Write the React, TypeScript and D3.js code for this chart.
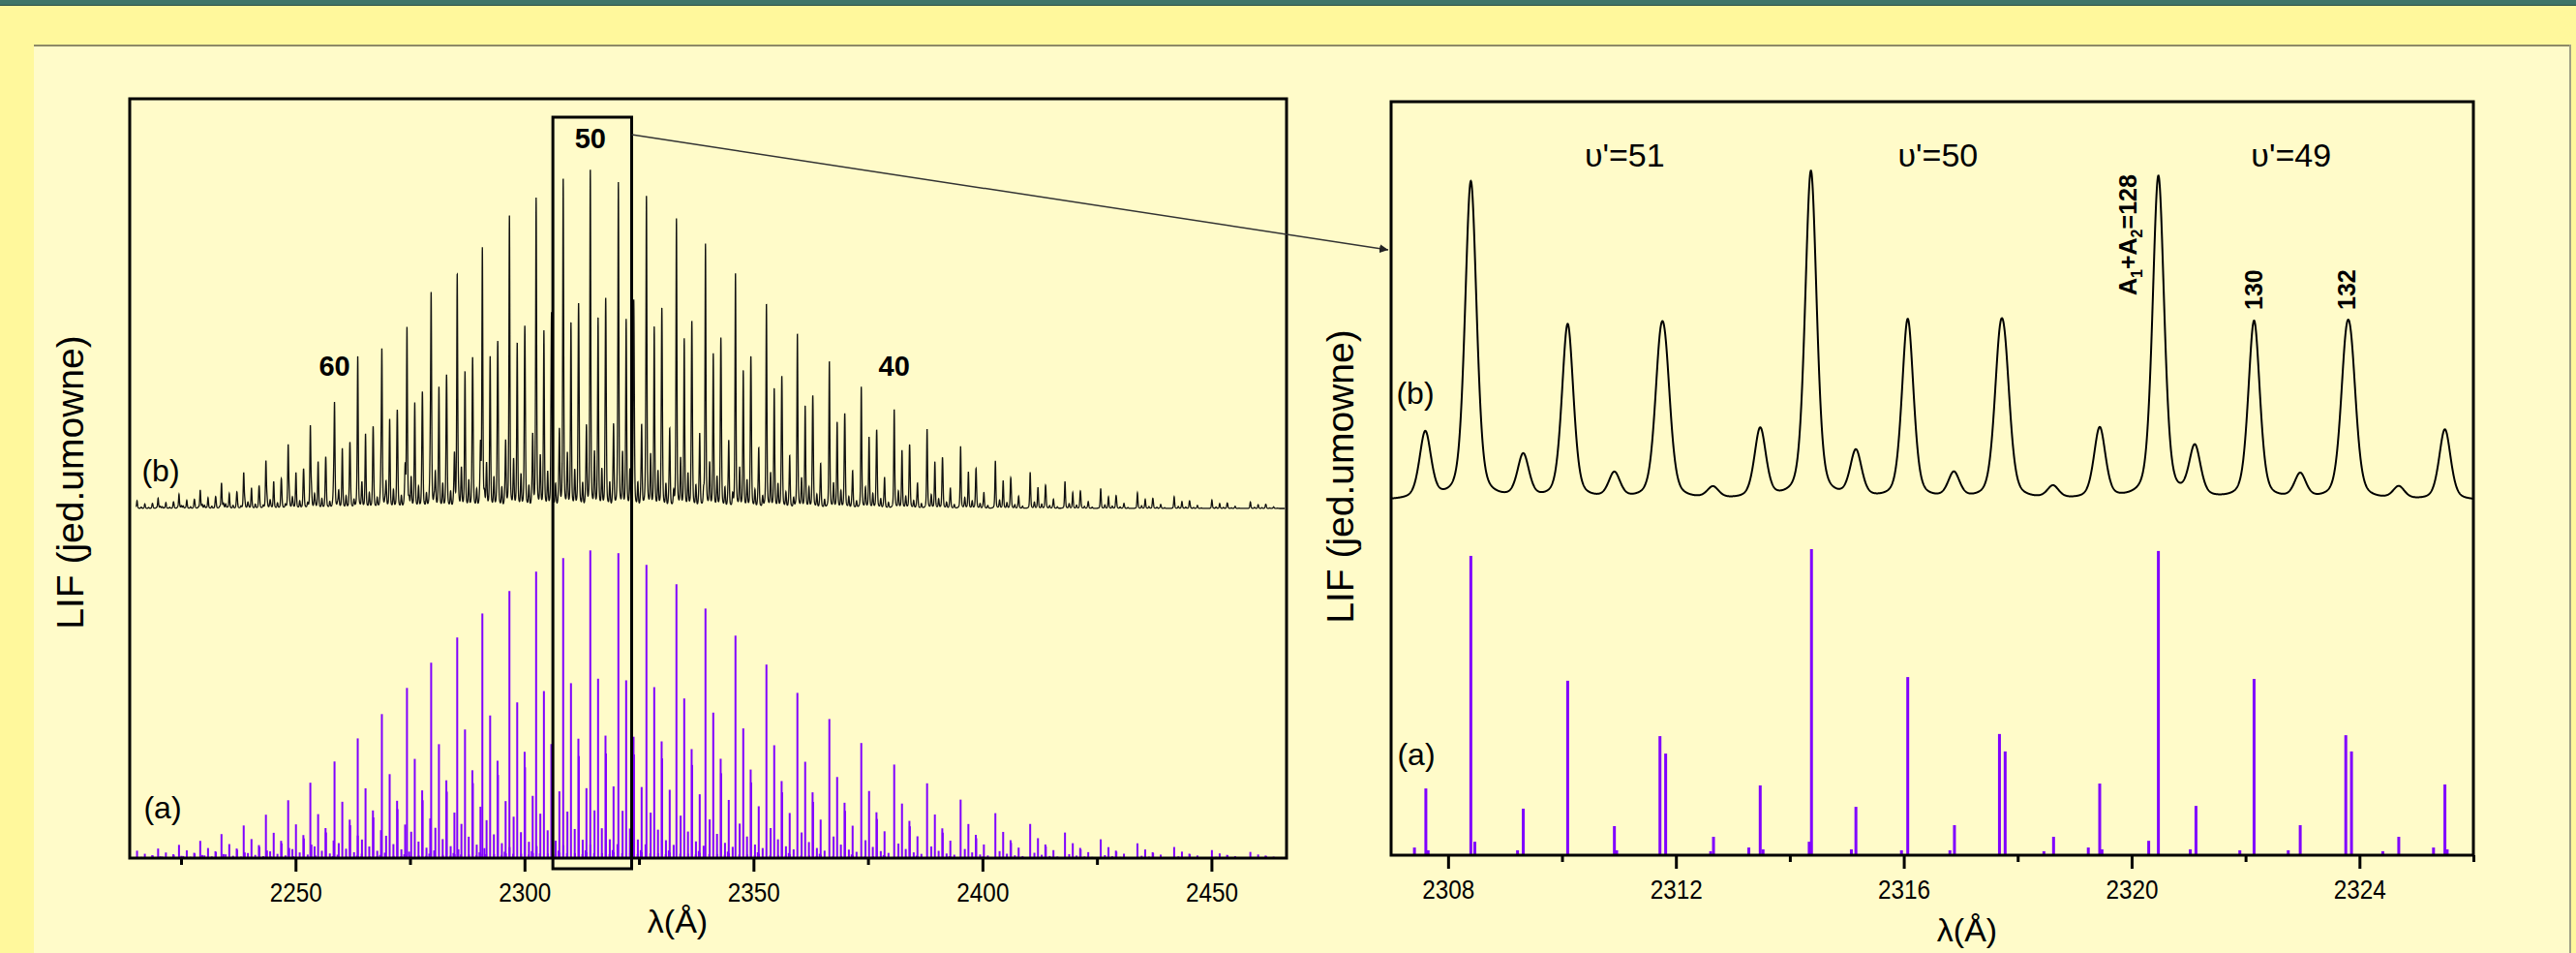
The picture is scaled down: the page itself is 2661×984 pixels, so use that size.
import { useRef, useEffect } from 'react';
import * as d3 from 'd3';

const WIDTH = 2661;
const HEIGHT = 984;
const FONT = '"Liberation Sans", Arial, sans-serif';
const VIOLET = '#8000ff';

// overview panel: strongest (A1+A2=128) line of every band (a)
const bandLambda = [
  2215.4, 2220.0, 2224.56, 2229.2, 2233.84, 2238.69, 2243.54, 2248.4, 2253.24, 2258.52,
  2263.59, 2268.86, 2274.34, 2279.62, 2285.31, 2290.8, 2296.71, 2302.54, 2308.45, 2314.37,
  2320.5, 2326.63, 2333.18, 2339.52, 2346.07, 2352.83, 2359.59, 2366.57, 2373.54, 2380.73,
  2387.91, 2395.23, 2402.82, 2410.42, 2418.02, 2425.82, 2433.84, 2441.86, 2450.1, 2458.5,
];
const bandIntensity = [
  2.4, 3.1, 4.3, 5.6, 7.8, 10.6, 14.1, 18.8, 24.5, 31.4,
  38.9, 46.8, 55.3, 63.5, 71.7, 79.5, 86.8, 93.1, 97.5, 100,
  99.1, 95.3, 89.0, 81.1, 72.3, 62.9, 53.7, 45.2, 37.4, 30.4,
  24.3, 19.0, 14.6, 11.1, 8.3, 6.1, 4.8, 3.6, 2.6, 2.0,
];
// isotopologue lines of one band, relative to its 128 line (offset in Å, relative intensity)
const patternOffset = [0, 0.82, 0.92, 1.7, 2.52, 2.56, 3.32, 3.42, 4.21, 4.26, 4.88, 5.08, 5.13, 5.94];
const patternRel = [1, 0.016, 0.155, 0.583, 0.097, 0.016, 0.398, 0.34, 0.013, 0.061, 0.026, 0.233, 0.019, 0.045];

const overviewMajor = [2250, 2300, 2350, 2400, 2450];
const overviewMinor = [2225, 2275, 2325, 2375, 2425];
const overviewMarks = ['60', '50', '40'];
const overviewMarkLambda = [2258.52, 2314.37, 2380.73];
const zoomWindow = [2306.2, 2323.4];

// zoomed panel, trace (a): individual lines
const zoomStickLambda = [
  2307.41, 2307.61, 2307.65, 2308.4, 2308.47, 2309.22, 2309.32, 2310.1, 2310.92, 2310.96,
  2311.72, 2311.82, 2312.61, 2312.66, 2313.28, 2313.48, 2313.53, 2314.34, 2314.38, 2315.08,
  2315.16, 2315.96, 2316.07, 2316.81, 2316.89, 2317.68, 2317.78, 2318.46, 2318.63, 2319.24,
  2319.44, 2319.48, 2320.3, 2320.47, 2321.03, 2321.13, 2321.9, 2322.15, 2322.75, 2322.96,
  2323.76, 2323.86, 2324.41, 2324.69, 2325.3, 2325.5, 2325.54,
];
const zoomStickIntensity = [
  2.5, 21.8, 1.6, 97.8, 4.4, 1.6, 15.2, 57.0, 9.5, 1.6,
  38.9, 33.2, 1.3, 6.0, 2.5, 22.8, 1.9, 4.4, 100, 1.9,
  15.8, 1.6, 58.2, 1.6, 9.8, 39.6, 33.9, 1.3, 6.0, 2.5,
  23.4, 1.9, 4.7, 99.4, 1.9, 16.1, 1.6, 57.6, 1.6, 9.8,
  39.2, 33.9, 1.3, 6.0, 2.5, 23.1, 1.9,
];
// zoomed panel, trace (b): resolved peaks
const zoomPeakLambda = [
  2307.6, 2308.4, 2309.32, 2310.1, 2310.92, 2311.72, 2311.82, 2312.65, 2313.48, 2314.37,
  2315.16, 2316.07, 2316.88, 2317.68, 2317.78, 2318.62, 2319.44, 2320.47, 2321.11, 2322.15,
  2322.96, 2323.76, 2323.86, 2324.69, 2325.5,
];
const zoomPeakAmp = [
  20.0, 95.5, 13.0, 52.5, 7.6, 33.0, 28.2, 3.4, 21.0, 98.5,
  14.0, 54.0, 7.6, 33.6, 28.6, 3.7, 21.3, 97.0, 15.2, 53.5,
  7.3, 33.4, 28.4, 3.7, 21.2,
];
const zoomMajor = [2308, 2312, 2316, 2320, 2324];
const zoomMinor = [2310, 2314, 2318, 2322, 2326];
const vibLabels = ["\u03c5'=51", "\u03c5'=50", "\u03c5'=49"];
const vibLabelLambda = [2311.1, 2316.6, 2322.8];
const isoLabels = ['128', '130', '132'];
const isoLabelLambda = [2319.94, 2322.15, 2323.78];

const HWHM = 0.12;
const ETA = 0.4;
const profile = (d: number) => {
  const u = (d / HWHM) ** 2;
  return ETA / (1 + u) + (1 - ETA) * Math.exp(-Math.LN2 * u);
};

type Panel = {
  left: number; right: number; top: number; bottom: number;
  domain: [number, number]; major: number[]; minor: number[];
};

const drawFrame = (svg: any, p: Panel, x: d3.ScaleLinear<number, number>, id: string) => {
  svg.append('clipPath').attr('id', id)
    .append('rect')
    .attr('x', p.left).attr('y', p.top)
    .attr('width', p.right - p.left).attr('height', p.bottom - p.top);

  const major = svg.append('g')
    .attr('transform', `translate(0,${p.bottom})`)
    .call(d3.axisBottom(x).tickValues(p.major).tickSize(14).tickPadding(12).tickFormat(d3.format('d')));
  const minor = svg.append('g')
    .attr('transform', `translate(0,${p.bottom})`)
    .call(d3.axisBottom(x).tickValues(p.minor).tickSize(7).tickFormat(() => ''));
  [major, minor].forEach(a => {
    a.select('.domain').remove();
    a.selectAll('line').attr('stroke', '#000').attr('stroke-width', 3);
    a.selectAll('text')
      .attr('font-family', FONT).attr('font-size', 27).attr('fill', '#000')
      .attr('transform', 'scale(0.9,1)');
  });

  svg.append('rect')
    .attr('x', p.left).attr('y', p.top)
    .attr('width', p.right - p.left).attr('height', p.bottom - p.top)
    .attr('fill', 'none').attr('stroke', '#000').attr('stroke-width', 3);
};

const App = () => {
  const svgRef = useRef<SVGSVGElement>(null);

  useEffect(() => {
    if (!svgRef.current) return;
    const svg = d3.select(svgRef.current);
    svg.selectAll('*').remove();

    // page background
    svg.append('rect').attr('width', WIDTH).attr('height', HEIGHT).attr('fill', '#fff89c');
    svg.append('rect').attr('width', WIDTH).attr('height', 5).attr('fill', '#3e7569');
    svg.append('line').attr('x1', 0).attr('x2', WIDTH).attr('y1', 5.5).attr('y2', 5.5)
      .attr('stroke', '#2c5048').attr('stroke-width', 1);
    svg.append('rect').attr('x', 35).attr('y', 46).attr('width', 2620).attr('height', HEIGHT)
      .attr('fill', '#fffbc9');
    svg.append('line').attr('x1', 35).attr('x2', 2656).attr('y1', 47).attr('y2', 47)
      .attr('stroke', '#8d8a66').attr('stroke-width', 2);
    svg.append('line').attr('x1', 2655).attr('x2', 2655).attr('y1', 46).attr('y2', HEIGHT)
      .attr('stroke', '#a09f86').attr('stroke-width', 2);

    const defs = svg.append('defs');
    defs.append('marker').attr('id', 'arrow')
      .attr('viewBox', '0 0 10 10').attr('refX', 10).attr('refY', 5)
      .attr('markerWidth', 9).attr('markerHeight', 9).attr('markerUnits', 'userSpaceOnUse')
      .attr('orient', 'auto')
      .append('path').attr('d', 'M0,0 L10,5 L0,10 z').attr('fill', '#222');

    // ---------- overview panel ----------
    const ov: Panel = {
      left: 134, right: 1329, top: 102, bottom: 886,
      domain: [2213.8, 2466.4], major: overviewMajor, minor: overviewMinor,
    };
    const xL = d3.scaleLinear().domain(ov.domain).range([ov.left, ov.right]);
    const yLa = d3.scaleLinear().domain([0, 100]).range([ov.bottom, ov.bottom - 317.7]);
    const yLb = d3.scaleLinear().domain([0, 100]).range([525, 525 - 335]);

    const ovSticks = bandLambda.flatMap((l0, i) =>
      patternOffset.map((off, j) => ({ l: l0 + off, h: bandIntensity[i] * patternRel[j] })));

    const gL = svg.append('g').attr('clip-path', 'url(#clipL)');
    gL.selectAll('rect.stick')
      .data(ovSticks)
      .join('rect')
      .attr('class', 'stick')
      .attr('x', d => xL(d.l) - 1)
      .attr('width', 2)
      .attr('y', d => yLa(d.h))
      .attr('height', d => yLa(0) - yLa(d.h))
      .attr('fill', VIOLET);

    const ovTrace = d3.range(2215.2, 2466, 0.02).map(l => {
      let s = 0;
      for (const st of ovSticks) {
        const d = l - st.l;
        if (d > -4 && d < 4) s += st.h * profile(d);
      }
      return [l, s] as [number, number];
    });
    gL.append('path')
      .datum(ovTrace)
      .attr('d', d3.line<[number, number]>().x(d => xL(d[0])).y(d => yLb(d[1])))
      .attr('fill', 'none').attr('stroke', '#111').attr('stroke-width', 1.3);

    drawFrame(svg, ov, xL, 'clipL');

    svg.selectAll('text.mark')
      .data(overviewMarks)
      .join('text')
      .attr('class', 'mark')
      .attr('x', (_, i) => xL(overviewMarkLambda[i]))
      .attr('y', (_, i) => (i === 1 ? 153 : 388))
      .attr('text-anchor', 'middle')
      .attr('font-family', FONT).attr('font-weight', 'bold').attr('font-size', 29)
      .text(d => d);

    // zoom window and arrow
    svg.append('rect')
      .attr('x', xL(zoomWindow[0])).attr('y', 121)
      .attr('width', xL(zoomWindow[1]) - xL(zoomWindow[0])).attr('height', 897 - 121)
      .attr('fill', 'none').attr('stroke', '#000').attr('stroke-width', 3);

    const addText = (t: string, x: number, y: number, size: number, rotate = false) =>
      svg.append('text')
        .attr('transform', rotate ? `translate(${x},${y}) rotate(-90)` : `translate(${x},${y})`)
        .attr('text-anchor', 'middle')
        .attr('font-family', FONT).attr('font-size', size).attr('fill', '#000')
        .text(t);

    addText('(b)', 166, 497, 32);
    addText('(a)', 168, 845, 32);
    addText('\u03bb(\u00c5)', 700, 963, 34);
    addText('LIF (jed.umowne)', 86, 498, 39, true);

    // ---------- zoomed panel ----------
    const zp: Panel = {
      left: 1437, right: 2555, top: 105, bottom: 883,
      domain: [2307, 2326], major: zoomMajor, minor: zoomMinor,
    };
    const xR = d3.scaleLinear().domain(zp.domain).range([zp.left, zp.right]);
    const yRa = d3.scaleLinear().domain([0, 100]).range([zp.bottom, zp.bottom - 316]);
    const yRb = d3.scaleLinear().domain([0, 100]).range([517, 517 - 344]);

    svg.append('line')
      .attr('x1', xL(zoomWindow[1])).attr('y1', 139)
      .attr('x2', zp.left - 3).attr('y2', 258)
      .attr('stroke', '#333').attr('stroke-width', 1.5)
      .attr('marker-end', 'url(#arrow)');

    const gR = svg.append('g').attr('clip-path', 'url(#clipR)');
    gR.selectAll('rect.stick')
      .data(zoomStickLambda)
      .join('rect')
      .attr('class', 'stick')
      .attr('x', d => xR(d) - 1.5)
      .attr('width', 3)
      .attr('y', (_, i) => yRa(zoomStickIntensity[i]))
      .attr('height', (_, i) => yRa(0) - yRa(zoomStickIntensity[i]))
      .attr('fill', VIOLET);

    const zoomTrace = d3.range(zp.domain[0], zp.domain[1] + 0.001, 0.004).map(l => {
      let s = 0;
      zoomPeakLambda.forEach((p, i) => { s += zoomPeakAmp[i] * profile(l - p); });
      return [l, s] as [number, number];
    });
    gR.append('path')
      .datum(zoomTrace)
      .attr('d', d3.line<[number, number]>().x(d => xR(d[0])).y(d => yRb(d[1])))
      .attr('fill', 'none').attr('stroke', '#000').attr('stroke-width', 2);

    drawFrame(svg, zp, xR, 'clipR');

    vibLabels.forEach((t, i) => addText(t, xR(vibLabelLambda[i]), 172, 34));

    // rotated isotopologue labels
    isoLabels.forEach((t, i) => {
      const tx = svg.append('text')
        .attr('transform', `translate(${xR(isoLabelLambda[i]) + 9},${i === 0 ? 305 : 320}) rotate(-90)`)
        .attr('font-family', FONT).attr('font-weight', 'bold').attr('font-size', 25).attr('fill', '#000');
      if (i === 0) {
        tx.append('tspan').text('A');
        tx.append('tspan').attr('font-size', 16).attr('dy', 6).text('1');
        tx.append('tspan').attr('dy', -6).text('+A');
        tx.append('tspan').attr('font-size', 16).attr('dy', 6).text('2');
        tx.append('tspan').attr('dy', -6).text(`=${t}`);
      } else {
        tx.text(t);
      }
    });

    addText('(b)', 1462, 417, 32);
    addText('(a)', 1463, 790, 32);
    addText('\u03bb(\u00c5)', 2032, 972, 34);
    addText('LIF (jed.umowne)', 1398, 492, 39, true);

    return () => { svg.selectAll('*').remove(); };
  }, []);

  return (
    <svg
      ref={svgRef}
      width={WIDTH}
      height={HEIGHT}
      style={{ position: 'absolute', left: 0, top: 0, display: 'block' }}
    />
  );
};

export default App;
